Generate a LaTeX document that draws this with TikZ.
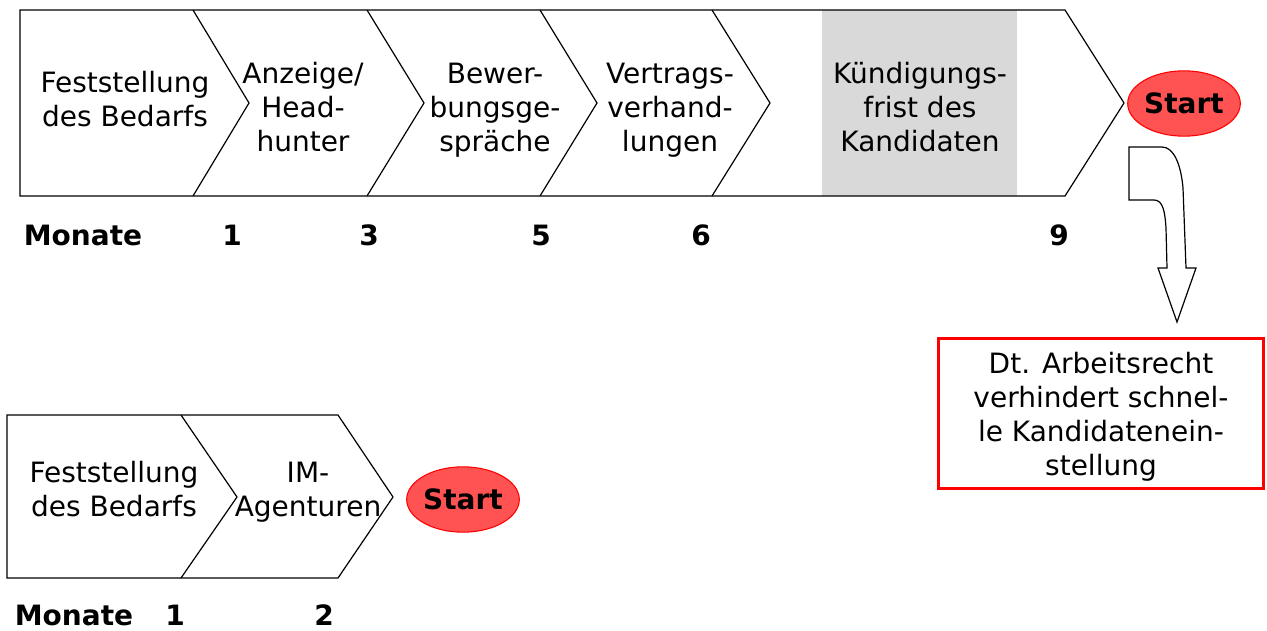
\documentclass[tikz,border=0pt]{standalone}
\usepackage{fontspec}
\setmainfont{DejaVu Sans}
\usetikzlibrary{shapes.geometric}
\definecolor{startred}{RGB}{255,82,82}
\definecolor{lgray}{RGB}{217,217,217}
\begin{document}
\begin{tikzpicture}[x=0.75pt,y=-0.75pt,
  lbl/.style={font=\fontsize{21}{25.5}\selectfont, align=center, inner sep=0pt},
  num/.style={font=\fontsize{21}{25.5}\selectfont\bfseries, inner sep=0pt, anchor=base},
  startnode/.style={ellipse, draw=red, fill=startred, line width=0.8pt,
    minimum width=80pt, minimum height=49pt, inner sep=0pt,
    font=\fontsize{21}{25.5}\selectfont\bfseries},
  outline/.style={draw=black, line width=0.9pt, line join=miter},
  notebox/.style={draw=red, line width=2.2pt, minimum width=243.75pt,
    minimum height=112.5pt, inner sep=0pt, align=center,
    text height=98.5pt, text depth=5pt,
    font=\fontsize{21}{25.5}\selectfont}
]
\useasboundingbox (0,0) rectangle (1267,631);
\fill[white] (0,0) rectangle (1267,631);

% ---- top process chain ----
\fill[lgray] (822,10) rectangle (1017,196);
\draw[outline] (20,10) -- (1065,10) -- (1124,103) -- (1065,196) -- (20,196) -- cycle;
\draw[outline] (193,10) -- (249,103) -- (193,196);
\draw[outline] (367,10) -- (424,103) -- (367,196);
\draw[outline] (540,10) -- (597,103) -- (540,196);
\draw[outline] (712,10) -- (770,103) -- (712,196);

\node[lbl] (t1) at (125,99.5) {Feststellung\\des Bedarfs};
\node[lbl] (t2) at (303,107) {Anzeige/\\Head-\\hunter};
\node[lbl] (t3) at (495,110) {Bewer-\\bungsge-\\spräche};
\node[lbl] (t4) at (670,110) {Vertrags-\\verhand-\\lungen};
\node[lbl] (t5) at (920,107) {Kündigungs-\\frist des\\Kandidaten};
\node[startnode] (s1) at (1184,103.5) {Start};

\node[num] (m0) at (83,245) {Monate};
\node[num] (m1) at (232,245) {1};
\node[num] (m3) at (369,245) {3};
\node[num] (m5) at (541,245) {5};
\node[num] (m6) at (701,245) {6};
\node[num] (m9) at (1059,245) {9};

% ---- bent block arrow ----
\draw[outline, fill=white] (1129,147) -- (1162,147)
  .. controls (1174,147) and (1181,165) .. (1183,188)
  -- (1186,268) -- (1196,268) -- (1177,322) -- (1158,268) -- (1167,268)
  -- (1166,228) .. controls (1165,212) and (1163,200) .. (1154,200)
  -- (1129,200) -- cycle;

\node[notebox] (note) at (1101,413.5) {Dt. Arbeitsrecht\\verhindert schnel-\\le Kandidatenein-\\stellung};

% ---- bottom process chain ----
\draw[outline] (7,415) -- (338,415) -- (393,497) -- (338,578) -- (7,578) -- cycle;
\draw[outline] (181,415) -- (237,497) -- (181,578);
\node[lbl] (b1) at (114,489.5) {Feststellung\\des Bedarfs};
\node[lbl] (b2) at (308,492) {IM-\\Agenturen};
\node[startnode] (s2) at (463,499.5) {Start};

\node[num] (n0) at (74,625) {Monate};
\node[num] (n1) at (175,625) {1};
\node[num] (n2) at (324,625) {2};
\end{tikzpicture}
\end{document}
